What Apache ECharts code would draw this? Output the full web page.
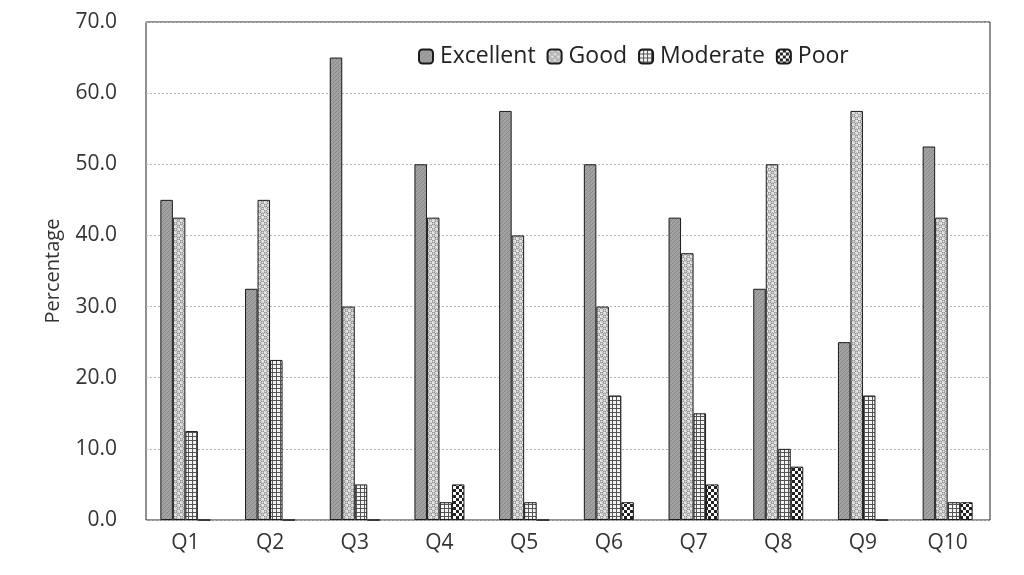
<!DOCTYPE html>
<html>
<head>
<meta charset="utf-8">
<script src="https://cdn.jsdelivr.net/npm/echarts@6/dist/echarts.min.js"></script>
<style>
  html, body { margin: 0; padding: 0; background: #ffffff; }
  #chart { width: 1024px; height: 575px; }
</style>
</head>
<body>
<div id="chart"></div>
<script>
// Survey results per question, in percent of respondents
const categories = ['Q1', 'Q2', 'Q3', 'Q4', 'Q5', 'Q6', 'Q7', 'Q8', 'Q9', 'Q10'];
const seriesNames = ['Excellent', 'Good', 'Moderate', 'Poor'];
const excellent = [45.0, 32.5, 65.0, 50.0, 57.5, 50.0, 42.5, 32.5, 25.0, 52.5];
const good      = [42.5, 45.0, 30.0, 42.5, 40.0, 30.0, 37.5, 50.0, 57.5, 42.5];
const moderate  = [12.5, 22.5,  5.0,  2.5,  2.5, 17.5, 15.0, 10.0, 17.5,  2.5];
const poor      = [ 0.0,  0.0,  0.0,  5.0,  0.0,  2.5,  5.0,  7.5,  0.0,  2.5];
const yTicks = { min: 0, max: 70, interval: 10 };

// Fill patterns for each rating
function makePattern(size, draw) {
  const c = document.createElement('canvas');
  c.width = size; c.height = size;
  const ctx = c.getContext('2d');
  draw(ctx, size);
  return { image: c, repeat: 'repeat' };
}

const patExcellent = makePattern(4, (ctx, s) => {
  ctx.fillStyle = '#a2a2a2';
  ctx.fillRect(0, 0, s, s);
  ctx.fillStyle = '#888888';
  ctx.fillRect(0, 3, 1, 1);
  ctx.fillRect(1, 2, 1, 1);
  ctx.fillRect(2, 1, 1, 1);
  ctx.fillRect(3, 0, 1, 1);
});

const patGood = makePattern(6, (ctx, s) => {
  ctx.fillStyle = '#e4e4e4';
  ctx.fillRect(0, 0, s, s);
  ctx.strokeStyle = '#808080';
  ctx.lineWidth = 1;
  ctx.beginPath();
  ctx.arc(1.5, 1.5, 1.4, 0, Math.PI * 2);
  ctx.stroke();
  ctx.beginPath();
  ctx.arc(4.5, 4.5, 1.4, 0, Math.PI * 2);
  ctx.stroke();
});

const patModerate = makePattern(4, (ctx, s) => {
  ctx.fillStyle = '#f4f4f4';
  ctx.fillRect(0, 0, s, s);
  ctx.fillStyle = '#555555';
  ctx.fillRect(0, 0, s, 1);
  ctx.fillRect(0, 0, 1, s);
});

const patPoor = makePattern(6, (ctx, s) => {
  ctx.fillStyle = '#ffffff';
  ctx.fillRect(0, 0, s, s);
  ctx.fillStyle = '#222222';
  ctx.fillRect(0, 0, 3, 3);
  ctx.fillRect(3, 3, 3, 3);
});

const patterns = [patExcellent, patGood, patModerate, patPoor];
const values = [excellent, good, moderate, poor];

const chart = echarts.init(document.getElementById('chart'), null, { renderer: 'canvas' });

const series = seriesNames.map((name, i) => ({
  name: name,
  type: 'bar',
  xAxisIndex: 0,
  yAxisIndex: 0,
  data: values[i],
  barWidth: 12.5,
  barGap: '0%',
  itemStyle: {
    color: patterns[i],
    borderColor: '#1a1a1a',
    borderWidth: 1
  },
  emphasis: { disabled: true }
}));

const font = '"Open Sans", Lato, sans-serif';

chart.setOption({
  backgroundColor: '#ffffff',
  animation: false,
  textStyle: { fontFamily: font, color: '#333' },
  grid: [
    // bar area
    { left: 143, right: 34, top: 22, bottom: 55, show: false },
    // plot frame and gridlines
    { left: 146, right: 34, top: 22, bottom: 55, show: true, borderColor: '#222', borderWidth: 1 }
  ],
  legend: {
    data: seriesNames,
    top: 40,
    left: 413,
    itemWidth: 14,
    itemHeight: 14,
    itemGap: 11,
    textStyle: { fontSize: 23, color: '#222', fontFamily: font, padding: [0, 0, 0, 2] }
  },
  xAxis: [
    {
      type: 'category',
      gridIndex: 0,
      data: categories,
      axisLine: { show: false },
      axisTick: { show: false },
      axisLabel: { fontSize: 21, color: '#333', margin: 13 }
    },
    { type: 'value', gridIndex: 1, show: false, min: 0, max: 1 }
  ],
  yAxis: [
    {
      type: 'value',
      gridIndex: 0,
      min: yTicks.min,
      max: yTicks.max,
      interval: yTicks.interval,
      name: 'Percentage',
      nameLocation: 'middle',
      nameGap: 80,
      nameTextStyle: { fontSize: 20, color: '#333' },
      axisLine: { show: false },
      axisTick: { show: false },
      axisLabel: {
        fontSize: 21, color: '#333', margin: 26,
        formatter: v => v.toFixed(1)
      },
      splitLine: { show: false }
    },
    {
      type: 'value',
      gridIndex: 1,
      min: yTicks.min,
      max: yTicks.max,
      interval: yTicks.interval,
      axisLine: { show: false },
      axisTick: { show: false },
      axisLabel: { show: false },
      splitLine: { show: true, lineStyle: { color: '#b4b4b4', type: [2, 2], width: 1 } }
    }
  ],
  series: series
});
</script>
</body>
</html>
